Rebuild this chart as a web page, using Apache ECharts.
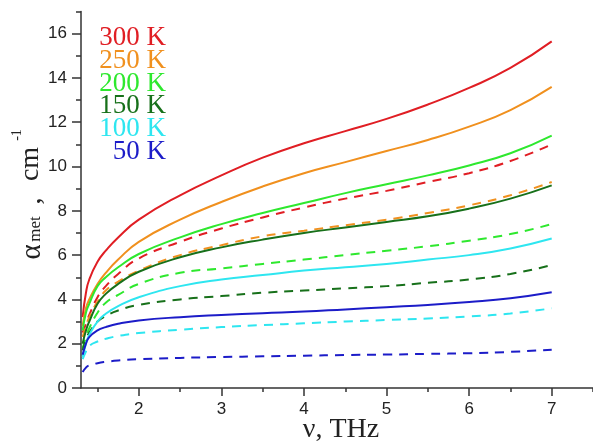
<!DOCTYPE html>
<html>
<head>
<meta charset="utf-8">
<script src="https://cdn.jsdelivr.net/npm/echarts@6/dist/echarts.min.js"></script>
<style>html,body{margin:0;padding:0;background:#fff}#c{width:593px;height:443px}</style>
</head>
<body>
<div id="c"></div>
<script>
// frequency (THz)
var nu = [1.32, 1.36, 1.4, 1.5, 1.6, 1.75, 2, 2.5, 3, 3.5, 4, 4.5, 5, 5.5, 6, 6.5, 7];
// solid curves
var s300 = [3.2, 4.3, 4.9, 5.7, 6.2, 6.8, 7.6, 8.7, 9.6, 10.4, 11.05, 11.6, 12.15, 12.8, 13.55, 14.45, 15.65];
var s250 = [2.8, 3.6, 4.0, 4.7, 5.2, 5.8, 6.6, 7.6, 8.4, 9.1, 9.7, 10.2, 10.7, 11.2, 11.8, 12.55, 13.6];
var s200 = [2.6, 3.4, 3.8, 4.6, 5.0, 5.45, 6.05, 6.8, 7.4, 7.9, 8.35, 8.8, 9.2, 9.6, 10.05, 10.6, 11.4];
var s150 = [2.0, 2.6, 3.0, 3.8, 4.25, 4.7, 5.25, 5.9, 6.35, 6.7, 7.0, 7.25, 7.5, 7.75, 8.1, 8.55, 9.15];
var s100 = [1.4, 2.0, 2.4, 3.0, 3.35, 3.7, 4.1, 4.6, 4.9, 5.1, 5.3, 5.45, 5.6, 5.8, 6.0, 6.3, 6.75];
var s50  = [1.5, 2.0, 2.3, 2.6, 2.75, 2.9, 3.05, 3.2, 3.3, 3.38, 3.45, 3.55, 3.65, 3.75, 3.88, 4.05, 4.32];
// dashed curves
var d300 = [2.5, 2.9, 3.3, 4.1, 4.6, 5.15, 5.85, 6.6, 7.2, 7.7, 8.15, 8.55, 8.9, 9.3, 9.7, 10.25, 11.0];
var d250 = [2.3, 2.8, 3.2, 3.9, 4.4, 4.8, 5.3, 6.0, 6.45, 6.85, 7.1, 7.35, 7.6, 7.9, 8.25, 8.7, 9.3];
var d200 = [1.8, 2.3, 2.7, 3.4, 3.85, 4.2, 4.7, 5.2, 5.4, 5.6, 5.8, 6.0, 6.2, 6.4, 6.65, 6.95, 7.4];
var d150 = [1.7, 2.2, 2.5, 3.0, 3.25, 3.5, 3.75, 4.0, 4.15, 4.3, 4.4, 4.5, 4.6, 4.75, 4.9, 5.15, 5.55];
var d100 = [1.3, 1.65, 1.9, 2.1, 2.22, 2.35, 2.48, 2.63, 2.75, 2.84, 2.92, 3.0, 3.07, 3.14, 3.23, 3.36, 3.6];
var d50  = [0.72, 0.92, 1.02, 1.12, 1.18, 1.24, 1.3, 1.36, 1.4, 1.43, 1.46, 1.49, 1.51, 1.54, 1.57, 1.63, 1.73];

var legendLabels = ['300 K', '250 K', '200 K', '150 K', '100 K', '50 K'];
var colors = ['#e01e24', '#f0901e', '#2ee82e', '#17701a', '#2ee6f0', '#1c1cc8'];
var solidSets = [s300, s250, s200, s150, s100, s50];
var dashedSets = [d300, d250, d200, d150, d100, d50];

function pairs(ys) { return nu.map(function (x, i) { return [x, ys[i]]; }); }

var series = [];
solidSets.forEach(function (ys, i) {
  series.push({ type: 'line', xAxisIndex: 0, yAxisIndex: 0, data: pairs(ys), showSymbol: false,
    smooth: 0.5, lineStyle: { color: colors[i], width: 2 }, z: 3 });
});
dashedSets.forEach(function (ys, i) {
  series.push({ type: 'line', xAxisIndex: 0, yAxisIndex: 0, data: pairs(ys), showSymbol: false,
    smooth: 0.5, lineStyle: { color: colors[i], width: 2, type: [9, 7] }, z: 2 });
});

// layout constants
var L = 81, T = 11.5, W = 512, H = 376.5;
var kx = W / 6.2, ky = H / 17;
function px(x) { return L + (x - 1.3) * kx; }
function py(y) { return T + H - y * ky; }

var axisColor = '#333';
var tickFont = { fontFamily: 'Liberation Sans', fontSize: 17, color: '#222' };

var graphics = [];
legendLabels.forEach(function (t, i) {
  graphics.push({ type: 'text', x: 166, y: 38 + i * 22.8,
    style: { text: t, fill: colors[i], font: '27px "Liberation Serif"', align: 'right', verticalAlign: 'middle' } });
});
function rt(text, x, y, size) {
  graphics.push({ type: 'text', x: x, y: y, rotation: Math.PI / 2,
    style: { text: text, fill: '#222', font: size + 'px "Liberation Serif"', align: 'center', verticalAlign: 'middle' } });
}
rt('\u03b1', 32, 252, 29);
rt('met', 36, 229, 17);
rt(',', 33, 201, 28);
rt('cm', 31, 164, 28);
rt('-1', 17, 135, 14);
graphics.push({ type: 'text', x: 341, y: 430,
  style: { text: '\u03bd, THz', fill: '#222', font: '28px "Liberation Serif"', align: 'center', verticalAlign: 'middle' } });

var option = {
  animation: false,
  backgroundColor: '#fff',
  grid: [
    { left: L, top: T, width: W, height: H, containLabel: false, outerBoundsMode: 'none' },
    { left: px(1.5), top: T, width: px(7.5) - px(1.5), height: H, containLabel: false, outerBoundsMode: 'none' },
    { left: px(2), top: T, width: px(7) - px(2), height: H, containLabel: false, outerBoundsMode: 'none' },
    { left: L, top: py(16), width: W, height: py(0) - py(16), containLabel: false, outerBoundsMode: 'none' }
  ],
  xAxis: [
    { gridIndex: 0, type: 'value', min: 1.3, max: 7.5, splitLine: { show: false },
      axisLine: { show: true, lineStyle: { color: axisColor, width: 1.5 } }, axisTick: { show: false }, axisLabel: { show: false } },
    { gridIndex: 1, type: 'value', min: 1.5, max: 7.5, interval: 0.5, splitLine: { show: false },
      axisLine: { show: false }, axisTick: { show: true, length: 4, lineStyle: { color: axisColor, width: 1.5 } }, axisLabel: { show: false } },
    { gridIndex: 2, type: 'value', min: 2, max: 7, interval: 1, splitLine: { show: false },
      axisLine: { show: false }, axisTick: { show: true, length: 8, lineStyle: { color: axisColor, width: 1.5 } },
      axisLabel: Object.assign({ show: true, margin: 13 }, tickFont) },
    { gridIndex: 3, type: 'value', show: false, min: 1.3, max: 7.5 }
  ],
  yAxis: [
    { gridIndex: 0, type: 'value', min: 0, max: 17, interval: 1, splitLine: { show: false },
      axisLine: { show: true, lineStyle: { color: axisColor, width: 1.5 } }, axisTick: { show: true, length: 5, lineStyle: { color: axisColor, width: 1.5 } }, axisLabel: { show: false } },
    { gridIndex: 1, type: 'value', show: false, min: 0, max: 17 },
    { gridIndex: 2, type: 'value', show: false, min: 0, max: 17 },
    { gridIndex: 3, type: 'value', min: 0, max: 16, interval: 2, splitLine: { show: false },
      axisLine: { show: false }, axisTick: { show: true, length: 9, lineStyle: { color: axisColor, width: 1.5 } },
      axisLabel: Object.assign({ show: true, margin: 14 }, tickFont) }
  ],
  series: series,
  graphic: graphics
};

var chart = echarts.init(document.getElementById('c'), null, { renderer: 'canvas' });
chart.setOption(option);
</script>
</body>
</html>
